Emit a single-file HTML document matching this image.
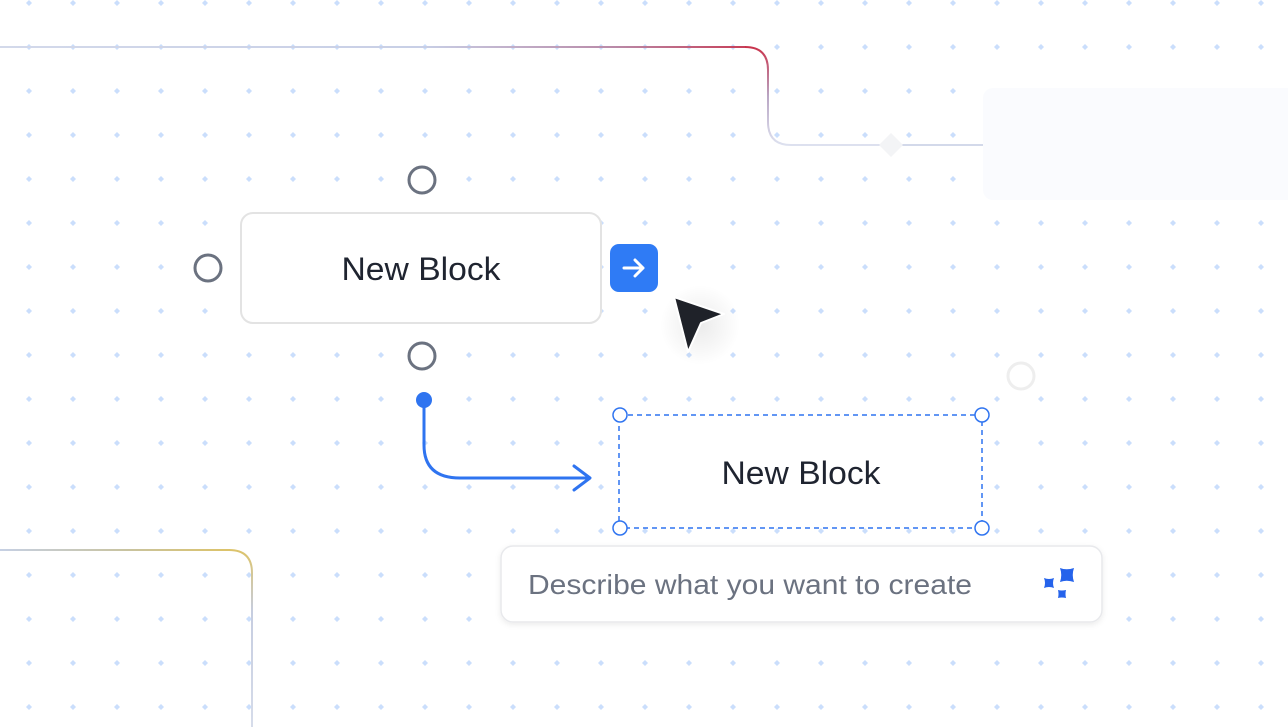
<!DOCTYPE html>
<html><head><meta charset="utf-8"><style>
html,body{margin:0;padding:0;background:#fff;}
svg{display:block;}
text{font-family:"Liberation Sans",sans-serif;}
</style></head><body>
<svg width="1288" height="727" viewBox="0 0 1288 727" xmlns="http://www.w3.org/2000/svg">
<defs>
<pattern id="dots" x="7" y="-19" width="44" height="44" patternUnits="userSpaceOnUse">
<path d="M22 19 L25 22 L22 25 L19 22Z" fill="#cadefc"/>
</pattern>
<linearGradient id="gtop" x1="0" y1="0" x2="768" y2="0" gradientUnits="userSpaceOnUse">
<stop offset="0" stop-color="#d3d9ea"/><stop offset="0.55" stop-color="#c8cfe6"/><stop offset="0.8" stop-color="#b98aa8"/><stop offset="1" stop-color="#c9334c"/>
</linearGradient>
<linearGradient id="gvert" x1="0" y1="47" x2="0" y2="145" gradientUnits="userSpaceOnUse">
<stop offset="0" stop-color="#c9334c"/><stop offset="0.5" stop-color="#b9a6c4"/><stop offset="1" stop-color="#dde1ef"/>
</linearGradient>
<linearGradient id="gbot" x1="0" y1="0" x2="252" y2="0" gradientUnits="userSpaceOnUse">
<stop offset="0" stop-color="#c6d0e4"/><stop offset="0.5" stop-color="#c8c3a0"/><stop offset="0.9" stop-color="#dcc36a"/><stop offset="1" stop-color="#d8c47a"/>
</linearGradient>
<linearGradient id="gbotv" x1="0" y1="550" x2="0" y2="727" gradientUnits="userSpaceOnUse">
<stop offset="0" stop-color="#dcc36a"/><stop offset="0.35" stop-color="#c6cde0"/><stop offset="1" stop-color="#d6dcea"/>
</linearGradient>
<filter id="sh" x="-20%" y="-40%" width="140%" height="180%"><feDropShadow dx="0" dy="2" stdDeviation="3" flood-color="#000" flood-opacity="0.08"/></filter>
<radialGradient id="curglow" cx="0.5" cy="0.5" r="0.5"><stop offset="0" stop-color="#000" stop-opacity="0.08"/><stop offset="1" stop-color="#000" stop-opacity="0"/></radialGradient>
</defs>
<rect width="1288" height="727" fill="url(#dots)"/>

<path d="M0 47 H746" stroke="url(#gtop)" stroke-width="2" fill="none"/>
<path d="M745 47 Q768 47 768 70 V122 Q768 145 791 145 H983" stroke="url(#gvert)" stroke-width="2" fill="none"/>
<path d="M880 145 H983" stroke="#d3d9ea" stroke-width="2"/>
<path d="M891 133 L903 145 L891 157 L879 145Z" fill="#f3f4f6"/>
<rect x="983" y="88" width="320" height="112" rx="10" fill="#fafbfe"/>

<path d="M0 550 H230" stroke="url(#gbot)" stroke-width="2" fill="none"/>
<path d="M229 550 Q252 550 252 573 V727" stroke="url(#gbotv)" stroke-width="2" fill="none"/>

<rect x="241" y="213" width="360" height="110" rx="12" fill="#fff" stroke="#e3e3e3" stroke-width="2"/>
<text x="421" y="280" font-size="32" fill="#1f2430" text-anchor="middle" textLength="159" lengthAdjust="spacingAndGlyphs">New Block</text>
<circle cx="422" cy="180" r="13" fill="#fff" stroke="#6b7280" stroke-width="3"/>
<circle cx="208" cy="268" r="13" fill="#fff" stroke="#6b7280" stroke-width="3"/>
<circle cx="422" cy="356" r="13" fill="#fff" stroke="#6b7280" stroke-width="3"/>

<rect x="610" y="244" width="48" height="48" rx="9" fill="#2f7bf5"/>
<path d="M624 268 H643 M635 260 L643 268 L635 276" stroke="#fff" stroke-width="3" fill="none" stroke-linecap="round" stroke-linejoin="round"/>

<ellipse cx="700" cy="325" rx="40" ry="40" fill="url(#curglow)"/>
<path d="M674 297 L724 314 L701 323 L688 352Z" fill="#1f2229" stroke="#fff" stroke-width="2" stroke-linejoin="round"/>

<circle cx="1021" cy="376" r="13" fill="#fff" stroke="#eeeeee" stroke-width="3"/>

<circle cx="424" cy="400" r="8" fill="#2f74f0"/>
<path d="M424 400 V445 Q424 478 460 478 H590" stroke="#2f74f0" stroke-width="3" fill="none"/>
<path d="M574 466 L590 478 L574 490" stroke="#2f74f0" stroke-width="3" fill="none" stroke-linecap="round" stroke-linejoin="round"/>

<rect x="619" y="415" width="363" height="113" fill="#fff" stroke="#2f74f0" stroke-width="1.5" stroke-dasharray="5 4"/>
<text x="801" y="484" font-size="32" fill="#1f2430" text-anchor="middle" textLength="159" lengthAdjust="spacingAndGlyphs">New Block</text>
<circle cx="620" cy="415" r="7" fill="#fff" stroke="#2f74f0" stroke-width="1.5"/>
<circle cx="982" cy="415" r="7" fill="#fff" stroke="#2f74f0" stroke-width="1.5"/>
<circle cx="620" cy="528" r="7" fill="#fff" stroke="#2f74f0" stroke-width="1.5"/>
<circle cx="982" cy="528" r="7" fill="#fff" stroke="#2f74f0" stroke-width="1.5"/>

<rect x="501" y="546" width="601" height="76" rx="12" fill="#fff" stroke="#e8e9ec" stroke-width="1.5" filter="url(#sh)"/>
<text x="528" y="594" font-size="28" fill="#6b7280" textLength="444" lengthAdjust="spacingAndGlyphs">Describe what you want to create</text>
<g fill="#2563eb">
<path d="M1060 568 Q1066.5 570.5 1074 568 Q1071.5 575 1074 582 Q1066.5 579.5 1060 582 Q1062.5 575 1060 568Z"/>
<path d="M1044 578 Q1049 580 1054 578 Q1052 583 1054 588 Q1049 586 1044 588 Q1046 583 1044 578Z"/>
<path d="M1058 590 Q1061.5 591 1066 590 Q1065 594 1066 598 Q1061.5 597 1058 598 Q1059 594 1058 590Z"/>
</g>
</svg>
</body></html>
